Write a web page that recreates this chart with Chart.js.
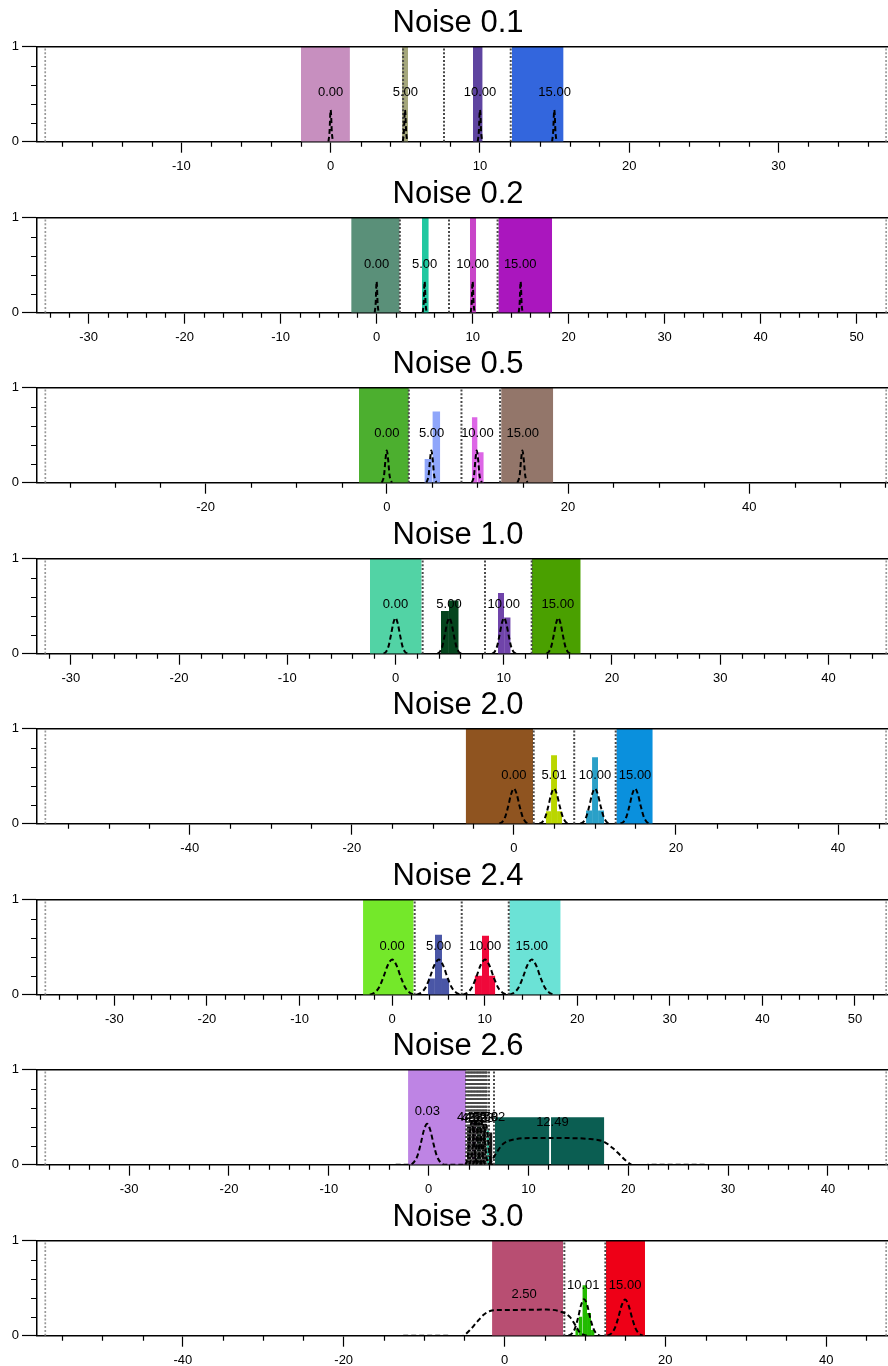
<!DOCTYPE html>
<html>
<head>
<meta charset="utf-8">
<script src="https://cdn.jsdelivr.net/npm/chart.js@4.4.1/dist/chart.umd.min.js"></script>
<style>
body { margin: 0; background: #fff; width: 888px; height: 1366px; overflow: hidden; position: relative; }
.panel { position: absolute; left: 0; width: 888px; height: 170px; }
</style>
</head>
<body>
<div id="charts"></div>
<script>
const titles = ['Noise 0.1', 'Noise 0.2', 'Noise 0.5', 'Noise 1.0', 'Noise 2.0', 'Noise 2.4', 'Noise 2.6', 'Noise 3.0'];

const xMins = [-19.67, -35.38, -38.61, -33.12, -58.85, -38.36, -39.23, -58.14];
const xMaxs = [37.33, 53.27, 55.32, 45.5, 46.16, 53.57, 46.02, 47.69];
const majorSteps = [10, 10, 20, 10, 20, 10, 10, 20];
const minorSteps = [2, 2, 5, 2, 5, 2, 2, 5];
const yMinorTicks = [0.2, 0.4, 0.6, 0.8];

// outer dotted lines (data range) and inner dotted split lines
const edgeLines = [
    [-19.12, 37.2], [-34.51, 53.08], [-37.69, 55.12], [-32.36, 45.34],
    [-57.82, 45.92], [-37.46, 53.37], [-38.4, 45.84], [-57.11, 47.46]
];
const splitLines = [
    [4.85, 7.59, 12.06],
    [2.42, 7.54, 12.6],
    [2.43, 8.24, 12.5],
    [2.51, 8.27, 12.58],
    [2.44, 7.44, 12.56],
    [2.44, 7.52, 12.6],
    [3.75, 3.88, 3.97, 4.07, 4.18, 4.27, 4.36, 4.47, 4.56, 4.66, 4.77, 4.86, 4.95,
     5.06, 5.15, 5.25, 5.36, 5.45, 5.55, 5.66, 5.75, 5.82, 6.05, 6.55],
    [7.44, 12.54]
];

// bars: [from, to, height]
const bars = [
    [[-1.99, 1.29, 1], [4.78, 5.18, 1], [9.53, 10.18, 1], [12.14, 15.6, 1]],
    [[-2.65, 2.4, 1], [4.72, 5.43, 1], [9.72, 10.37, 1], [12.68, 18.28, 1]],
    [[-3.07, 2.43, 1], [4.15, 5.03, 0.25], [5.03, 5.9, 0.75], [9.38, 10.02, 0.69], [10.02, 10.7, 0.32], [12.62, 18.37, 1]],
    [[-2.36, 2.42, 1], [4.2, 4.94, 0.45], [4.94, 5.84, 0.56], [9.47, 10.03, 0.64], [10.03, 10.64, 0.38], [12.58, 17.11, 1]],
    [[-5.95, 2.36, 1], [3.96, 4.58, 0.13], [4.58, 5.32, 0.72], [5.32, 5.94, 0.13], [8.9, 9.64, 0.14], [9.64, 10.38, 0.7], [10.38, 11.12, 0.14], [12.64, 17.13, 1]],
    [[-3.14, 2.33, 1], [3.88, 4.63, 0.17], [4.63, 5.39, 0.63], [5.39, 6.18, 0.17], [8.92, 9.71, 0.2], [9.71, 10.47, 0.62], [10.47, 11.15, 0.2], [12.66, 18.21, 1]],
    [[-2.06, 3.75, 1], [3.85, 4.3, 0.42], [4.3, 4.8, 0.44], [4.8, 5.3, 0.46], [5.3, 5.8, 0.43], [5.8, 6.05, 0.36], [6.05, 6.4, 0.34], [6.65, 12.1, 0.5], [12.25, 17.6, 0.5]],
    [[-1.55, 7.28, 1], [8.8, 9.2, 0.07], [9.2, 9.68, 0.2], [9.68, 10.26, 0.53], [10.26, 10.76, 0.24], [10.76, 11.2, 0.06], [12.62, 17.47, 1]]
];
const barColors = [
    ['#c78fbf', '#a5a77c', '#5e44a0', '#3366dd'],
    ['#5a9079', '#20c8a0', '#c845c8', '#aa16be'],
    ['#4caf2f', '#8fa6fa', '#8fa6fa', '#dd66e6', '#dd66e6', '#93766a'],
    ['#52d3a5', '#05451d', '#05451d', '#7044aa', '#7044aa', '#4aa000'],
    ['#8f5420', '#bad600', '#bad600', '#bad600', '#2aa0c8', '#2aa0c8', '#2aa0c8', '#0a90dd'],
    ['#74e82a', '#4a56a6', '#4a56a6', '#4a56a6', '#f0083a', '#f0083a', '#f0083a', '#6be2d6'],
    ['#be84e4', '#0a0a0a', '#140818', '#06140e', '#0e0e0e', '#2ac9a3', '#141414', '#0b5e52', '#0b5e52'],
    ['#b84e72', '#22bb00', '#22bb00', '#22bb00', '#22bb00', '#22bb00', '#ee0017']
];

// dashed density curves
const p1Y = [0, 0.12, 0.28, 0.334, 0.28, 0.12, 0];
const p2Y = [0, 0.12, 0.27, 0.33, 0.27, 0.12, 0];
const p3Y = [0, 0.08, 0.24, 0.34, 0.24, 0.08, 0];
const p4Y = [0, 0.024, 0.08, 0.19, 0.317, 0.377, 0.317, 0.19, 0.08, 0.024, 0];
const p5Y = [0, 0.023, 0.078, 0.185, 0.31, 0.37, 0.31, 0.185, 0.078, 0.023, 0];
const p6Y = [0, 0.023, 0.078, 0.185, 0.31, 0.37, 0.31, 0.185, 0.078, 0.023, 0];

const curveX = [
    [[-0.15, -0.07, -0.03, 0, 0.03, 0.07, 0.15], [4.83, 4.91, 4.95, 4.98, 5.01, 5.05, 5.13],
     [9.85, 9.93, 9.97, 10, 10.03, 10.07, 10.15], [14.83, 14.91, 14.95, 14.98, 15.01, 15.05, 15.13]],
    [[-0.2, -0.09, -0.04, 0, 0.04, 0.09, 0.2], [4.8, 4.91, 4.96, 5, 5.04, 5.09, 5.2],
     [9.8, 9.91, 9.96, 10, 10.04, 10.09, 10.2], [14.8, 14.91, 14.96, 15, 15.04, 15.09, 15.2]],
    [[-0.55, -0.3, -0.15, 0, 0.15, 0.3, 0.55], [4.37, 4.62, 4.77, 4.92, 5.07, 5.22, 5.47],
     [9.38, 9.63, 9.78, 9.93, 10.08, 10.23, 10.48], [14.42, 14.67, 14.82, 14.97, 15.12, 15.27, 15.52]],
    [[-1.1, -0.85, -0.64, -0.43, -0.21, 0, 0.21, 0.43, 0.64, 0.85, 1.1],
     [3.87, 4.12, 4.33, 4.54, 4.76, 4.97, 5.18, 5.4, 5.61, 5.82, 6.07],
     [8.93, 9.18, 9.39, 9.6, 9.82, 10.03, 10.24, 10.46, 10.67, 10.88, 11.13],
     [13.94, 14.19, 14.4, 14.61, 14.83, 15.04, 15.25, 15.47, 15.68, 15.89, 16.14]],
    [[-1.8, -1.4, -1.05, -0.7, -0.35, 0, 0.35, 0.7, 1.05, 1.4, 1.8],
     [3.15, 3.55, 3.9, 4.25, 4.6, 4.95, 5.3, 5.65, 6.0, 6.35, 6.75],
     [8.2, 8.6, 8.95, 9.3, 9.65, 10, 10.35, 10.7, 11.05, 11.4, 11.8],
     [13.15, 13.55, 13.9, 14.25, 14.6, 14.95, 15.3, 15.65, 16.0, 16.35, 16.75]],
    [[-2.4, -1.87, -1.4, -0.94, -0.47, 0, 0.47, 0.94, 1.4, 1.87, 2.4],
     [2.63, 3.16, 3.63, 4.09, 4.56, 5.03, 5.5, 5.97, 6.43, 6.9, 7.43],
     [7.63, 8.16, 8.63, 9.09, 9.56, 10.03, 10.5, 10.97, 11.43, 11.9, 12.43],
     [12.68, 13.21, 13.68, 14.14, 14.61, 15.08, 15.55, 16.02, 16.48, 16.95, 17.48]],
    [[-3.3, -1.85, -1.45, -1.13, -0.8, -0.48, -0.15, 0.18, 0.5, 0.83, 1.15, 1.55, 3.8],
     [3.65, 3.8, 3.93, 4.05, 4.18, 4.3, 4.43, 4.55, 4.68, 4.8, 4.95],
     [4.05, 4.2, 4.33, 4.45, 4.58, 4.7, 4.83, 4.95, 5.08, 5.2, 5.35],
     [4.4, 4.55, 4.68, 4.8, 4.93, 5.05, 5.18, 5.3, 5.43, 5.55, 5.7],
     [4.75, 4.9, 5.03, 5.15, 5.28, 5.4, 5.53, 5.65, 5.78, 5.9, 6.05],
     [5.1, 5.25, 5.38, 5.5, 5.63, 5.75, 5.88, 6.0, 6.13, 6.25, 6.4],
     [6.0, 6.32, 6.82, 7.48, 8.32, 10.16, 13.5, 16.2, 17.5, 18.5, 19.2, 19.84, 20.3, 20.8, 21.6, 22.5, 27.7]],
    [[-12.6, -7, -6.2, -5.5, -5.1, -4.3, -3.5, -2.6, -1.8, -0.6, 2.5, 5.25, 7.1, 8.15, 8.98, 9.4, 10.0, 10.5],
     [7.95, 8.4, 8.77, 9.15, 9.52, 9.9, 10.28, 10.65, 11.03, 11.4, 11.85],
     [12.8, 13.3, 13.72, 14.15, 14.57, 15, 15.43, 15.85, 16.28, 16.7, 17.2]]
];
const curveY = [
    [p1Y, p1Y, p1Y, p1Y],
    [p2Y, p2Y, p2Y, p2Y],
    [p3Y, p3Y, p3Y, p3Y],
    [p4Y, p4Y, p4Y, p4Y],
    [p5Y, p5Y, p5Y, p5Y],
    [p6Y, p6Y, p6Y, p6Y],
    [[0, 0, 0.03, 0.09, 0.215, 0.36, 0.43, 0.36, 0.215, 0.09, 0.03, 0, 0],
     [0, 0.027, 0.095, 0.225, 0.378, 0.45, 0.378, 0.225, 0.095, 0.027, 0],
     [0, 0.029, 0.1, 0.24, 0.4, 0.48, 0.4, 0.24, 0.1, 0.029, 0],
     [0, 0.026, 0.092, 0.22, 0.37, 0.44, 0.37, 0.22, 0.092, 0.026, 0],
     [0, 0.028, 0.097, 0.23, 0.386, 0.46, 0.386, 0.23, 0.097, 0.028, 0],
     [0, 0.025, 0.088, 0.21, 0.353, 0.42, 0.353, 0.21, 0.088, 0.025, 0],
     [0, 0.04, 0.13, 0.22, 0.26, 0.28, 0.28, 0.27, 0.245, 0.17, 0.1, 0.035, 0, -0.01, -0.005, 0, 0]],
    [[0, 0, -0.008, -0.012, 0, 0.06, 0.137, 0.22, 0.26, 0.27, 0.272, 0.275, 0.25, 0.195, 0.085, 0.03, 0.005, 0],
     [0, 0.024, 0.08, 0.19, 0.323, 0.385, 0.323, 0.19, 0.08, 0.024, 0],
     [0, 0.024, 0.08, 0.19, 0.32, 0.38, 0.32, 0.19, 0.08, 0.024, 0]]
];

const labelText = [
    ['0.00', '5.00', '10.00', '15.00'],
    ['0.00', '5.00', '10.00', '15.00'],
    ['0.00', '5.00', '10.00', '15.00'],
    ['0.00', '5.00', '10.00', '15.00'],
    ['0.00', '5.01', '10.00', '15.00'],
    ['0.00', '5.00', '10.00', '15.00'],
    ['0.03', '4.21', '4.52', '4.87', '5.23', '5.58', '5.02', '12.49'],
    ['2.50', '10.01', '15.00']
];
const labelX = [
    [0, 5, 10, 15],
    [0, 5, 10, 14.95],
    [0, 4.95, 10, 15],
    [0, 4.94, 10, 15],
    [0, 4.95, 10, 14.95],
    [0, 5.03, 10.03, 15.08],
    [-0.13, 4.1, 4.5, 4.9, 5.3, 5.7, 6.4, 12.4],
    [2.43, 9.8, 15]
];
const labelY = [
    [0.515, 0.515, 0.515, 0.515],
    [0.51, 0.51, 0.51, 0.51],
    [0.52, 0.52, 0.52, 0.52],
    [0.52, 0.52, 0.52, 0.52],
    [0.51, 0.51, 0.51, 0.51],
    [0.51, 0.51, 0.51, 0.51],
    [0.56, 0.5, 0.49, 0.5, 0.49, 0.5, 0.5, 0.45],
    [0.43, 0.53, 0.53]
];

const fontFamily = '"Liberation Sans", Arial, Helvetica, sans-serif';
const panelStep = 170.5;
const titleX = 458;

const panelDecor = {
    id: 'panelDecor',
    afterDatasetsDraw: function (chart) {
        const k = chart.options.panelIndex;
        const ctx = chart.ctx;
        const xs = chart.scales.x;
        const ys = chart.scales.y;
        ctx.save();
        ctx.fillStyle = '#000';
        ctx.font = '13px ' + fontFamily;
        ctx.textAlign = 'center';
        ctx.textBaseline = 'middle';
        labelText[k].forEach(function (t, i) {
            ctx.fillText(t, xs.getPixelForValue(labelX[k][i]), ys.getPixelForValue(labelY[k][i]));
        });
        ctx.restore();
    },
    afterDraw: function (chart) {
        const k = chart.options.panelIndex;
        const ctx = chart.ctx;
        const area = chart.chartArea;
        const xs = chart.scales.x;
        const ys = chart.scales.y;
        ctx.save();
        ctx.strokeStyle = '#000';
        ctx.lineWidth = 1.5;
        ctx.beginPath();
        ctx.moveTo(area.left, area.top);
        ctx.lineTo(area.right + 2, area.top);
        ctx.stroke();

        // minor ticks
        ctx.lineWidth = 1.2;
        ctx.beginPath();
        const step = minorSteps[k];
        const first = Math.ceil(xMins[k] / step);
        const last = Math.floor(xMaxs[k] / step);
        for (let i = first; i <= last; i++) {
            const v = i * step;
            if (v % majorSteps[k] === 0) continue;
            const px = Math.round(xs.getPixelForValue(v)) + 0.5;
            ctx.moveTo(px, area.bottom);
            ctx.lineTo(px, area.bottom + 5);
        }
        yMinorTicks.forEach(function (v) {
            const py = Math.round(ys.getPixelForValue(v)) + 0.5;
            ctx.moveTo(area.left - 6, py);
            ctx.lineTo(area.left, py);
        });
        ctx.stroke();

        ctx.fillStyle = '#000';
        ctx.font = '31px ' + fontFamily;
        ctx.textAlign = 'center';
        ctx.textBaseline = 'alphabetic';
        ctx.fillText(titles[k], titleX, 31.5);
        ctx.restore();
    }
};

function makeDatasets(k) {
    const ds = [];
    bars[k].forEach(function (b, i) {
        ds.push({
            data: [{ x: b[0], y: 0 }, { x: b[0], y: b[2] }, { x: b[1], y: b[2] }, { x: b[1], y: 0 }],
            showLine: true,
            fill: 'origin',
            backgroundColor: barColors[k][i],
            borderColor: 'rgba(0,0,0,0)',
            borderWidth: 0,
            pointRadius: 0,
            order: 3
        });
    });
    edgeLines[k].forEach(function (x) {
        ds.push({
            data: [{ x: x, y: 0 }, { x: x, y: 1 }],
            showLine: true,
            borderColor: '#999999',
            borderWidth: 1.7,
            borderDash: [2, 1.8],
            pointRadius: 0,
            order: 2
        });
    });
    splitLines[k].forEach(function (x) {
        ds.push({
            data: [{ x: x, y: 0 }, { x: x, y: 1 }],
            showLine: true,
            borderColor: '#4a4a4a',
            borderWidth: 2,
            borderDash: [2, 1.8],
            pointRadius: 0,
            order: 2
        });
    });
    curveX[k].forEach(function (xsArr, i) {
        ds.push({
            data: xsArr.map(function (x, j) { return { x: x, y: curveY[k][i][j] }; }),
            showLine: true,
            borderColor: '#000',
            borderWidth: 2,
            borderDash: [5, 3],
            cubicInterpolationMode: 'monotone',
            pointRadius: 0,
            order: 1
        });
    });
    return ds;
}

const holder = document.querySelector('#charts');

titles.forEach(function (title, k) {
    const div = document.createElement('div');
    div.className = 'panel';
    div.style.top = (k * panelStep) + 'px';
    const canvas = document.createElement('canvas');
    canvas.width = 888;
    canvas.height = 170;
    div.appendChild(canvas);
    holder.appendChild(div);

    new Chart(canvas, {
        type: 'scatter',
        data: { datasets: makeDatasets(k) },
        plugins: [panelDecor],
        options: {
            panelIndex: k,
            responsive: false,
            devicePixelRatio: 1,
            animation: false,
            layout: { padding: { top: 46.7, left: 0, right: 0, bottom: 0 } },
            plugins: { legend: { display: false }, tooltip: { enabled: false }, title: { display: false } },
            scales: {
                x: {
                    type: 'linear',
                    position: 'bottom',
                    min: xMins[k],
                    max: xMaxs[k],
                    z: 1,
                    afterFit: function (s) { s.height = 28.3; },
                    ticks: {
                        stepSize: majorSteps[k],
                        includeBounds: false,
                        autoSkip: false,
                        maxRotation: 0,
                        padding: 6,
                        color: '#000',
                        font: { family: fontFamily, size: 13 }
                    },
                    grid: { drawOnChartArea: false, drawTicks: true, tickLength: 11, tickColor: '#000', tickWidth: 1.2 },
                    border: { display: true, color: '#000', width: 1.5 }
                },
                y: {
                    min: 0,
                    max: 1,
                    z: 1,
                    afterFit: function (s) { s.width = 37; },
                    ticks: {
                        stepSize: 1,
                        padding: 3,
                        color: '#000',
                        font: { family: fontFamily, size: 13 }
                    },
                    grid: { drawOnChartArea: false, drawTicks: true, tickLength: 15, tickColor: '#000', tickWidth: 1.2 },
                    border: { display: true, color: '#000', width: 1.5 }
                }
            }
        }
    });
});
</script>
</body>
</html>
